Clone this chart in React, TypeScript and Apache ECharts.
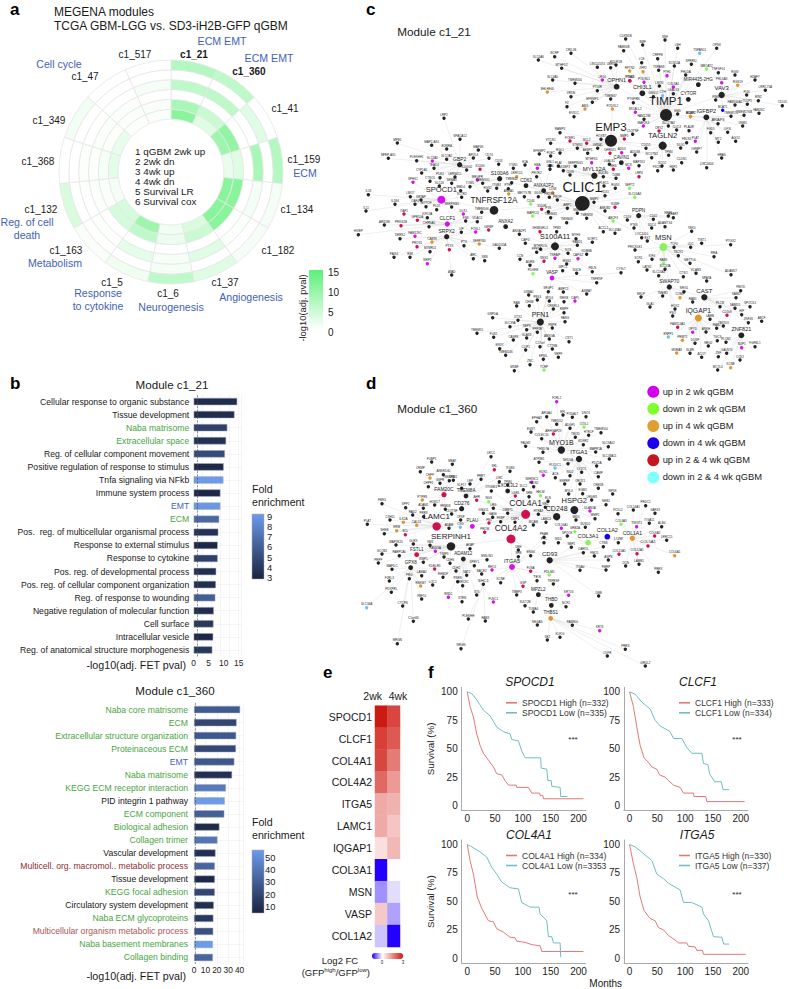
import React, { useEffect, useRef } from "react";
import * as echarts from "echarts";

const FONT = "Liberation Sans";

/* ---------- panel a ---------- */
const modules = ["c1_21","c1_360","c1_41","c1_159","c1_134","c1_182","c1_37","c1_6","c1_5","c1_163","c1_132","c1_368","c1_349","c1_47","c1_517"];
const ring1 = [7,6,0,7,1,1,3,6,1.5,0.6,3.5,0,1.2,0,0];
const ring2 = [0,0,3,0,0,0,0,1,0,0,0,0,0,0,0];
const ring3 = [6,6,0,8,1,0.5,3,0.7,2.5,0.3,0,0.5,0,0,1];
const ring4 = [0,0,0,0,0,0,0,0,0,0,0.5,0.3,0.5,0.4,0];
const ring5 = [8,5,10,3,11,11,5,1.8,6,4,0.5,0.8,0.5,0.5,0.6];
const ring6 = [11,3,9,2,11,11,3.5,1.5,9,4,1,2.5,2,0.3,0.4];
const rings = [ring6, ring5, ring4, ring3, ring2, ring1];

/* ---------- panel b ---------- */
const termsC21 = ["Cellular response to organic substance","Tissue development","Naba matrisome","Extracellular space","Reg. of cellular component movement","Positive regulation of response to stimulus","Tnfa signaling via NFkb","Immune system process","EMT","ECM","Pos.  reg. of multicellular organismal process","Response to external stimulus","Response to cytokine","Pos. reg. of developmental process","Pos. reg. of cellular component organization","Reg. of response to wounding","Negative regulation of molecular function","Cell surface","Intracellular vesicle","Reg. of anatomical structure morphogenesis"];
const kindC21 = ["k","k","g","g","k","k","k","k","b","g","k","k","k","k","k","k","k","k","k","k"];
const fetC21 = [14.5,13.6,11.2,10.8,10.4,10,9.9,8.9,8.9,8.5,8.2,8,8,7.5,7.4,7.2,6.7,6.6,6.5,6.2];
const foldC21 = [3.5,3.5,4.5,3.7,5,3.3,9,3.2,8.8,6.5,3.7,3.2,4.5,3.6,3.6,6,3.5,4,3.3,4];
const termsC360 = ["Naba core matrisome","ECM","Extracellular structure organization","Proteinaceous ECM","EMT","Naba matrisome","KEGG ECM receptor interaction","PID integrin 1 pathway","ECM component","Biological adhesion","Collagen trimer","Vascular development","Multicell. org. macromol.. metabolic process","Tissue development","KEGG focal adhesion","Circulatory system development","Naba ECM glycoproteins","Multicellular organism metabolic process","Naba basement membranes","Collagen binding"];
const kindC360 = ["g","g","g","g","b","g","g","k","g","g","g","k","r","k","g","k","g","p","g","g"];
const fetC360 = [40.5,37.4,37,36.8,35.4,33.4,28,27,26.6,22.3,20.6,18.9,18.3,18.3,18.3,17.4,17,16.9,16.6,16.6];
const foldC360 = [26,18,25,19,25,10,38,50,28,8,36,10,30,7,18,9,13,22,50,30];
const ticksB1 = [0,5,10,15];
const ticksB2 = [0,10,20,30,40];

/* ---------- panels c, d: nodes are [label, x, y, status], hubs add a weight ---------- */
type Hub = [string, number, number, number, number?];
type Leaf = [string, number, number, number?];
const c21Hubs: Hub[] = [
 ["CLIC1",727,610,14],["TIMP1",978,345,11.5],["EMP3",813,422,11.5],["TNFRSF12A",462,631,8.2],["SPOCD1",304,599,7.6,1],["TAGLN2",968,437,7.7],["S100A11",645,739,7.6],["MSN",970,741,7.5,2],["PFN1",601,966,6.8],["IQGAP1",1075,954,6.8,3],["MYL12A",763,527,6],["CAST",1093,892,6],["ZNF821",1204,1006,5.5],["SRPX2",320,710,5],["CLCF1",322,672,5,1],["VAV3",1145,285,6],["IGFBP2",1099,352,5.5],["CHI3L1",907,280,5.5],["OPHN1",830,260,5.5],["GBP2",359,494,5],["S100A6",479,536,5],["PDPN",896,647,4.8],["SWAP70",988,861,5],["VASP",636,834,4.5,1],["ANXA2",497,680,4.5],["CD63",558,557,4.5],["ANXA2P2",611,572,4.5],["CAVIN1",844,488,4.5],["CYTOR",1045,298,4.5],["MIR4435-2HG",1075,254,4.5],["ARAP3",1134,371,4],
];
const c21Trunks = [["CLIC1","TNFRSF12A"],["CLIC1","EMP3"],["CLIC1","MYL12A"],["CLIC1","S100A11"],["CLIC1","MSN"],["CLIC1","PDPN"],["EMP3","TIMP1"],["EMP3","TAGLN2"],["TIMP1","TAGLN2"],["TIMP1","CHI3L1"],["TIMP1","OPHN1"],["TIMP1","VAV3"],["TIMP1","IGFBP2"],["TIMP1","CYTOR"],["TIMP1","MIR4435-2HG"],["TIMP1","ARAP3"],["TNFRSF12A","SPOCD1"],["TNFRSF12A","CLCF1"],["TNFRSF12A","SRPX2"],["TNFRSF12A","GBP2"],["TNFRSF12A","S100A6"],["TNFRSF12A","ANXA2"],["S100A11","VASP"],["VASP","PFN1"],["MSN","SWAP70"],["SWAP70","CAST"],["CAST","IQGAP1"],["IQGAP1","ZNF821"],["CLIC1","CD63"],["CLIC1","ANXA2P2"],["MYL12A","CAVIN1"]];
const c21Leaves: Record<string, Leaf[]> = {
 TIMP1: [["CDKN1B",857,117],["BMF",908,135],["SNF",975,120],["FAM84B",851,152],["LBH",1013,145],["OPN3",1130,145],["TSPAN11",1079,160,6],["LCE",905,188],["CRPPB",953,176],["SCN11A",1003,198],["SPRR1L",1054,193],["MBOAT2",1100,207,2],["RFTN2",869,213,3],["ZFP2",909,215,3],["TSPAN8",956,211],["FTH1",981,227,1],["PHLDA",1037,225],["PODNL1",912,247,1],["COL8A1",1000,261,1],["LGALS3",1000,281],["CTH",968,287,6],["GNG11",940,290],["MICALL2",886,337,1],["EMD",1013,342],["RCN3",1051,349,3],["FAM129B",912,358],["CRYZ",957,393,5],["CLIC4",1010,390],["PLAUR",1047,392],["MAP2K3",910,378,1],["FTSJ3",870,242,5],["LMO3",958,258],["PTGFRN",880,308],["SLC27A3",985,378]],
 VAV3: [["PHLDA3",1145,248,1],["RGS19",1193,256,3],["TNFSF14",1135,218],["RGSI",1185,225],["H2AFY",1245,240],["LRRC75A",1276,271],["PI16",1220,285],["RIN2",1255,302],["TULP1",1222,313],["FAM26C",1257,340],["CD101",1327,317],["BCAT1",1148,331,4],["FAM160A2",1185,315],["PIM3",1127,300]],
 IGFBP2: [["TMEM176",1173,349],["TMEM176B",1212,346],["DNM1",1208,378],["FGD5",1112,398],["ILF3L",1163,397],["AGO2",1187,424],["MT2",1135,427],["HRAS",1145,474],["LINC0606",1100,503],["PLAT",1066,424,1],["IGFBP7",1070,456],["ADAP2",1052,350,3]],
 OPHN1: [["SLC6A6",595,180],["BCRP",644,170],["CRIL1B",693,160],["MTHFD2",665,205],["SLC6A5",638,240],["TMEM160",705,250],["VRDN",693,290],["BHLHE40",622,276,3],["F2",681,320],["LINC02474",772,202],["LRG1",787,240,1],["ITGA1",869,242,5],["PTGIR",772,272],["EFEMP1",757,307],["TMEM47",812,297],["ABI3",735,327,3],["EVS1C",702,350],["UBR3",812,203],["POLR1B",828,195]],
 EMP3: [["RAMP3",660,398],["FCER1",690,423,5],["BCL2",740,430,5],["HOXB7",783,418],["STMN3",712,445],["VTCN1",632,430],["EFEMP2",598,462],["RGL1",660,459],["AEBP1",743,460],["LMNA1",773,445],["BMP1",853,417,5],["PODXL2",817,327,3],["CD151",918,445],["ADD3",845,458,1],["DHRS11",810,460,5],["C1QTNF",878,403]],
 TAGLN2: [["FBLN1",1040,428],["DLG1",1022,444],["TPM4",986,466],["NCOTN2",935,473],["ADD3B",885,465],["MAP2K1",897,497],["CLDN1",1025,488],["SCO2",966,498],["FSCN1",953,512],["LRP4",897,530,5],["HSP2",1000,510]],
 MYL12A: [["SERPING1",706,499],["PLEC",632,468],["GNL1",630,497],["PLAI",655,498],["TAX1BP3",670,512],["MTHFD1",755,488,1],["LGALS1",808,493],["MCK",866,505,1],["RHS",820,508,5],["NUCB1",790,530],["TUBB",828,535],["CD99",690,525]],
 CLIC1: [["SUMF",825,622,5],["SEPT2",869,565,2],["SLC16A3",884,592,2],["PRDX6",628,592],["PROP",652,600],["MMP2",762,607],["FDX1",795,587],["RGS3",826,565],["PLEC1",792,558],["MSN2",712,640],["ARPC",682,625],["TMSB4X",680,668],["TMEM59",740,655],["ANKIB2",795,633],["TMEM43",632,653],["PYK",625,635],["CD44",572,612,2],["GLG1",595,590],["S100P",605,628,5],["MAPK13",578,648,2],["ABCF3",819,663,2],["ACCL1",790,695],["SLC43A1",825,700]],
 ANXA2P2: [["ANXA1",506,582,3],["METTL7B",553,590],["CD68",638,578,3],["TMEM42",515,548],["PROK2",590,530],["HBA",592,505,1],["E1A",555,495],["ITSN1",520,505],["CAN",630,508]],
 S100A6: [["CD53",476,493],["S100G",420,508,5],["MRGPR",412,540,1],["LRRC15",530,530,3],["PTRF",505,566],["TOM1",390,560],["ITGB3",470,565],["RGS2",443,573],["TMEM161",428,550]],
 GBP2: [["CD74",447,475],["APOL4",400,474],["SLC7A2",320,478],["TEAD4",282,505],["LRRN4CL",345,531],["SLC3A5",277,483,1],["S100G2",380,510],["SLC16",298,558],["SEMA3",335,550],["PLEKHH1",230,482],["MAP4K",415,450],["EDNRA",320,447],["MAP2-AS1",275,436],["SPACA12",360,418],["LRP2",312,355],["MPB1",172,429],["NPEP-AS1",145,475],["CYP1A1",245,519],["CTSO1",270,544],["PDE2",300,533]],
 SPOCD1: [["SPHK1",219,547,1],["IL18",85,584],["LMO7",211,590],["OAF4",225,613],["IL11",78,633],["IL1B4",165,613],["KRTAP",243,600],["NOTCH",258,620],["SERPINB2",335,621],["SCTR2",365,592],["MBD4",362,572],["PLD1",290,629],["DLK1",370,642,1]],
 CLCF1: [["OAF1",192,642,5],["GPR55A",232,661,5],["PRKS2B",183,677,5],["KIF13A",262,653],["ARID3B",133,675],["CHRNA5",267,680],["FN3",377,663],["FOSL1",407,696,1],["VDAC1",412,665],["HIVEP",55,704],["TMEM106",425,637]],
 SRPX2: [["FAM129C",225,709,1],["CAB39",276,726,3],["DRRK2",180,716],["PROS1",231,740,5],["MTMR11",270,755],["PTX3",328,749,5],["PTX",372,737],["LIF",364,697],["SERPIND",418,732,3],["IGFBP",446,690,5],["PAIS4",162,772],["RIM",210,772],["NRP2",262,791,1],["ARC",400,776],["GADD45A",478,745],["SBN",434,782],["ATAD",335,825]],
 S100A11: [["ANXA2P1",538,703],["SH3BGRL3",600,695,5],["TPM3",650,695],["CAPG",556,730],["PPP4A",590,757],["MYH9",708,716],["RAB31",712,736],["MTHFD1L",602,748],["TNFAIP",645,775,1],["SNX1",612,784,5],["SOS",684,760],["CAPG2",714,776,1],["MGS2",680,792],["ADRB",570,796],["CCN",540,778],["SORT1",757,727],["PDGFB",579,821,2],["FBLN",757,815],["SGCE",710,820],["KDM6B",740,763],["GIPC1",668,812]],
 PDPN: [["CD59",862,660],["CD42",940,658],["PTK6",882,684],["SDC4",935,684],["NRP1",985,648],["HEART",1000,653],["ADAMTS4",975,680],["EXT",922,723],["LOC1010",905,713]],
 MSN: [["PRICKLE1",885,750],["TCF4",1002,742],["TINT1",1085,730],["PTGS2",1172,734],["LDC",1052,742],["TBOX2",1015,767],["METTL6",1050,790],["RRA",1122,770],["KIF4",936,778],["RAB9",970,790,2],["SLC23A",975,808],["LATS2",921,810],["SLC13A3",956,827],["CTSO",1030,830],["VCAM1",1068,820],["SPATA",1100,843],["ADAM17",1173,824],["TBKD",1055,694],["SCN1",895,785]],
 SWAP70: [["COMP",1020,893,3],["NRG1",1032,875],["TMEM1",968,888],["MKLP",903,891],["GLA1",930,921],["HOX2",1005,927],["PSO",998,948],["RAB1",1058,906]],
 CAST: [["FMOD",1202,872],["SAMD",1188,893],["PLCB",1140,920],["SAMD2",1185,925],["SPOCK1",1230,920],["CD109",1161,946,5],["HIP",1205,944],["TMOD3",1150,978],["LAMB",1110,958],["ZNF46",1225,968],["ABCF",1265,964]],
 IQGAP1: [["FAM114A1",1013,982,5],["OPYD",1058,997,1],["ANKH",1098,996],["RAB2",1130,985],["PRMT1",1027,1021,3],["ENPP1",985,1011,6],["DUSP",1065,1030],["NRG2",1105,1038],["TGCS",1132,1022],["MXRA8",1010,1059,3],["SLBR",1050,1060],["ACOT",1085,1072]],
 ZNF821: [["PLCB2",1158,1027],["NUP5",1205,1043,1],["FGFBL1",1245,1040],["GALNT4",1160,1060],["CCK2",1200,1080],["ZNF",1135,1070],["KCNE",1172,1103,3],["MCTL4",1133,1110]],
 PFN1: [["SRGP1",625,875],["AMPC3",670,876],["USBA1",566,885],["PBX4",592,900],["MYL6",628,903],["NRKB",672,905],["CAP5",705,903,1],["RAB",530,918],["CHSB",568,917],["CRKRL1",640,927],["RMPF",672,938],["FANG",675,965],["DTX2",534,961],["SLC39A",510,980],["GNPDA",458,953],["SEPS",560,989],["PBPR",637,984],["PPP1R",592,997],["GLAS3",560,1014],["AMXGA",628,1017],["TMEM55",411,1000],["FUS1",461,1012],["CASP8",520,1020],["ENDY",479,1046],["TMEM246",497,1066],["CLIP1",557,1050],["C17orf",600,1040],["CTTNB",637,1047],["CST1",687,1025],["EPSIL",610,1078],["VRPF",655,1072],["ZNC",570,1094],["MSBF",523,1112],["TCRP",612,1110,2]],
 VASP: [["TNFRSF",770,848],["ASMAT",740,882],["CYSLT",843,818]],
};

const c360Hubs: Hub[] = [
 ["COL4A1",557,463,8.5,5],["COL4A2",513,537,8.5,5],["LAMC1",290,499,8,5],["SERPINH1",333,559,8],["HSPG2",703,450,7.5],["CD248",650,470,7],["MYO1B",664,270,7],["ITGA1",717,297,6],["CD93",629,601,6],["ITGA5",516,621,5.5,1],["COL3A1",744,548,5.5,2],["COL1A2",802,530,5.5,4],["COL1A1",877,535,5,3],["FAM20C",312,404,5,5],["TMEM8A",378,408,4.5],["CD276",365,446,5],["PLAU",397,499,4.5,1],["ADAM12",370,597,4.5],["FSTL1",230,584,4.5,5],["GPX8",212,623,4.5],["MPZL2",595,704,4.5],["THBD",634,736,4.5],["THBS1",632,775,4.5,3],["TES",591,662,4],["SHC1",430,673,4],["EXOC3L2",503,393,4.5],["ITGB1",454,393,4],["LUM",835,548,4],["COL5A1",924,558,4,5],
];
const c360Trunks = [["COL4A1","COL4A2"],["COL4A1","HSPG2"],["COL4A1","CD248"],["COL4A1","LAMC1"],["COL4A2","SERPINH1"],["COL4A2","ITGA5"],["COL4A2","CD93"],["LAMC1","SERPINH1"],["LAMC1","CD276"],["LAMC1","FAM20C"],["HSPG2","CD248"],["HSPG2","COL3A1"],["HSPG2","ITGA1"],["ITGA1","MYO1B"],["COL3A1","COL1A2"],["COL1A2","COL1A1"],["COL1A1","COL5A1"],["COL1A2","LUM"],["ITGA5","MPZL2"],["ITGA5","SHC1"],["MPZL2","THBD"],["THBD","THBS1"],["MPZL2","TES"],["SERPINH1","ADAM12"],["SERPINH1","FSTL1"],["SERPINH1","GPX8"],["COL4A1","EXOC3L2"],["COL4A1","ITGB1"],["CD276","TMEM8A"],["COL4A1","PLAU"]];
const c360Leaves: Record<string, Leaf[]> = {
 MYO1B: [["F2RL2",650,125,1],["ARGA4",620,170],["EFL",669,165],["PODALT",697,172],["DNO1",738,170],["EPHA3",590,185],["TMED52",650,193],["ADGF5",690,205],["COIL1",732,201,2],["EGST",573,216],["ARHGAP29",640,222,5],["TMOD",706,232],["HTR1F",746,226],["TMEM500",783,218],["COLEC10",605,236],["KDSR2",730,254],["PALM2",557,259],["THSD7A",609,277],["SLC9A12",805,260],["MAPR1A",767,276],["SLC38A11",808,297]],
 ITGA1: [["ATP8B1",597,307],["PLXDC1",645,324,6],["NKD1A",684,311],["PDZ2A",770,318],["LYZO1",725,337],["NID2",690,347],["CAMP",775,350],["EDN1",610,346,1],["ACE",646,353],["ENPEP",674,372],["ORO21",720,372],["CRB1B",775,385],["MYL4",686,402],["EGM1",728,401],["NPSK",818,402]],
 HSPG2: [["DLAN1A",750,453,1],["LRGM3",755,420],["NEB2",798,434],["MMP2",765,476],["MID1",708,480],["SUSD2",736,502],["GRB2A",705,515,2]],
 CD248: [["HTRA3",595,463],["LAMC3",618,487],["COL16A1",664,505,1],["ELN",624,424],["SRM",567,410],["HELM",601,407,2],["MCAM",580,495],["LGR4",526,408,5],["FBLN2",581,380],["NR2",616,442]],
 COL4A1: [["DMBT1",503,460],["CMP1",525,487],["FN1",447,489,5],["FKBP",482,485],["PROM",434,517,5],["GNG11",430,460],["NGS",446,425,2],["TPM4",503,375],["SLC2",550,389],["SERINC2",575,367,1],["LRG",460,445],["AHR",410,421,5],["GAS6",458,472]],
 LAMC1: [["CALD1",230,496,3],["ILK2A",190,487,3],["CSH11",150,480],["ADAM",327,505],["ERM",170,512,3],["SHEB",133,521],["BCL",196,524,5],["PLAT",82,493],["CPSF",362,480],["RAD2",218,465],["PRRX",251,470],["C1QTNF",335,462],["CSG",361,502,6],["FMN1",126,431],["SPP1",197,443]],
 FAM20C: [["FUBP1",275,306],["PTPRS",247,420,3],["CRMP",241,335],["ANKRD40",310,344],["CHPF",270,354,3],["NEBPB",328,362],["GSPR",300,370],["USB1",340,361],["CHPF2",265,380],["MEAT",337,313],["HOXC7",284,435],["FRMD8",316,448],["ADAM1",250,445]],
 TMEM8A: [["LRCC",453,290],["SRL",463,329,5],["LRP",390,372],["PRRT",423,358],["LINC",478,365],["ITGB3",510,334],["KLF17",365,385]],
 SERPINH1: [["GLRX",220,552],["MAP3K20",168,555],["SM3",270,556],["FAM49A",286,574,1],["GCOB1",126,582],["PARPCAL",178,587],["TIMP3",312,591],["PRPF",115,609],["WBP1",250,607],["AKAP",390,566],["CDH6",330,610]],
 GPX8: [["MAPILC",156,628],["LAMA2",245,647],["PRG",208,656],["PDXPRL",154,697],["F2RL3",148,663],["RBKM7",242,678,3],["FBF10",245,717],["CTCFN",188,738],["SLC34A",80,743,6],["C1orf46",220,784],["MRGN",172,851],["KDELR3",284,627,5],["LOC1",278,675]],
 ADAM12: [["EMILIN1",441,599],["SPRY1",403,617],["BACE2",425,642],["CDH2",348,633],["SAT2",380,646],["PSEN",353,665],["RHBDF",309,652],["RND1",325,712,1],["FLNC1",460,726,1],["STRN",366,725],["LRRC8C",368,677],["ST6",410,705]],
 ITGA5: [["RHOJ",456,630,1],["FLNA",572,634,5],["PDLIM1",628,645,2],["KCNE",482,668],["GSP",549,679,5],["TMBP3",530,705],["SHB",535,590],["ENG4",572,587],["DBH",535,570],["PEAR",612,532],["PTC",612,548]],
 SHC1: [["PLEKHH",385,777],["RAB3",436,783],["NRGN",363,866]],
 MPZL2: [["KRT16",686,706,1],["SULT2B",555,737],["TUBA4",580,756],["NCF2",678,740],["TNFRSF",640,672]],
 THBS1: [["NEGAS",592,795],["FAM800",697,796],["SE2",622,840],["KLF10",660,832],["KRT6",779,812,1],["PRRS",856,868],["OLFR",802,888],["GRUL2",916,918]],
 CD93: [["NBP1",694,562],["OAROL",730,578],["FMO1",763,588],["ITGA4",720,631],["DBB",776,708],["ASPN",805,600],["FMRP",798,630],["CTNB",790,560]],
 COL1A1: [["COL4A3",843,493,2],["FCDL2",834,461],["COL14A1",880,450],["TWIST1",890,500,1],["ITGA11",928,490],["GAP43",945,460],["ALB4",965,500],["PRDC1",917,437],["COL6A2",944,528,5],["COL15A1",837,583,5],["COL12A1",891,581,5],["DCN",857,618],["LAMB1",897,613],["COL6A1",1004,587,3],["LRRC15",980,541],["PRRX",955,637]],
 COL3A1: [["NID1",655,548],["SPOCK",682,528]],
};

/* ---------- panel e ---------- */
const heatGenes = ["SPOCD1","CLCF1","COL4A1","COL4A2","ITGA5","LAMC1","IQGAP1","COL3A1","MSN","VASP","COL1A2"];
const heatWeeks = ["2wk","4wk"];
const fc2wk = [3,2.5,2.4,1.95,1.1,1.1,0.4,-1.5,-0.65,0.7,-0.35];
const fc4wk = [2.4,2.15,1.7,1.3,1,0.75,0.9,0.03,-0.2,-0.55,-1.5];

/* ---------- panel f ---------- */
type P = [number, number];
const spocd1High: P[] = [[0,100],[5,87],[11,78],[17,63],[23,53],[29,46],[38,40],[47,34],[53,28],[62,27],[68,22],[74,18],[88,18],[89,16],[110,16],[116,11],[130,11],[131,9],[136,9],[137,6],[209,6]];
const spocd1Low: P[] = [[0,100],[8,98.5],[17,93],[29,84],[41,79],[53,69],[65,65],[77,63],[80,58],[92,57],[98,48],[104,42],[132,42],[133,33],[143,32],[145,22],[151,22],[152,17],[167,16],[168,8],[180,8]];
const clcf1High: P[] = [[0,100],[7,87],[13,69],[19,53],[26,42],[34,38],[40,34],[49,32],[54,27],[64,25],[70,22],[79,18],[91,16],[97,11],[115,11],[116,8],[137,8],[139,3.5],[207,3.5]];
const clcf1Low: P[] = [[0,100],[10,98],[22,91],[37,85],[46,75],[55,70],[73,65],[79,59],[94,59],[103,51],[112,46],[130,46],[133,37],[141,36],[144,28],[153,21],[165,21],[168,14],[179,14]];
const col4a1High: P[] = [[0,100],[5,86],[11,74],[18,54],[26,44],[38,33],[47,32],[53,26],[65,23],[77,18.5],[86,18],[89,15],[104,14],[116,12],[131,11],[134,6],[209,6]];
const col4a1Low: P[] = [[0,100],[8,98],[23,93.5],[35,89],[44,80],[53,74],[62,67],[77,62],[92,61],[98,49],[113,45],[129,45],[131,39],[143,33],[146,19],[152,19],[155,13.5],[167,13.5],[168,1]];
const itga5High: P[] = [[0,100],[7,83],[13,71],[19,54],[26,42],[37,35],[46,33],[52,27],[61,25],[70,20],[82,16],[88,13.5],[103,13.5],[106,10.5],[118,10],[121,7],[131,7],[133,3.5],[209,3.5]];
const itga5Low: P[] = [[0,100],[10,98],[25,92],[40,86],[49,74],[61,70],[70,66],[91,60],[97,49],[112,49],[130,45],[133,39],[142,33],[151,19],[166,18.5],[169,12.5],[179,12.5]];
const kmPanels = [
 { gene: "SPOCD1", high: spocd1High, low: spocd1Low, highName: "SPOCD1 High (n=332)", lowName: "SPOCD1 Low (n=335)" },
 { gene: "CLCF1", high: clcf1High, low: clcf1Low, highName: "CLCF1 High (n=333)", lowName: "CLCF1 Low (n=334)" },
 { gene: "COL4A1", high: col4a1High, low: col4a1Low, highName: "COL4A1 High (n=334)", lowName: "COL4A1 Low (n=3353" },
 { gene: "ITGA5", high: itga5High, low: itga5Low, highName: "ITGA5 High (n=330)", lowName: "ITGA5 Low (n=337)" },
];
const kmXTicks = [0,50,100,150,200];
const kmYTicks = [0,25,50,75,100];

const statusColor = ["#222222","#d80ff0","#85f55a","#e0962a","#1500f0","#d0104f","#6cc0f8"];
const termColor: Record<string,string> = { k:"#1a1a1a", g:"#4aa53f", b:"#3f62b8", r:"#8a3030", p:"#b05555" };
const BLUE = "#3f62b8";

function mix(a: number[], b: number[], t: number) {
  const c = a.map((v, i) => Math.round(v + (b[i] - v) * Math.max(0, Math.min(1, t))));
  return `rgb(${c[0]},${c[1]},${c[2]})`;
}
const scoreColor = (v: number) => mix([255,255,255],[93,240,119], v / 15);
const foldColor = (v: number, lo: number, hi: number) => mix([26,35,64],[108,155,234], (v - lo) / (hi - lo));

function buildNetwork(hubs: Hub[], leaves: Record<string, Leaf[]>, trunks: string[][]) {
  const nodes: any[] = [];
  const links: any[] = [];
  const index: Record<string, number> = {};
  const addNode = (name: string, x: number, y: number, w: number, status: number) => {
    nodes.push({
      id: "n" + nodes.length, name, value: [x, y], symbol: "circle",
      symbolSize: w > 4 ? w * 1.05 : 3.4,
      itemStyle: { color: statusColor[status] },
      label: { show: true, position: "top", distance: w > 7 ? 2 : 0.5, fontSize: w, color: "#1a1a1a", fontFamily: FONT },
    });
    return nodes.length - 1;
  };
  hubs.forEach(([n, x, y, w, s]) => { index[n] = addNode(n, x, y, w, s || 0); });
  Object.keys(leaves).forEach((hub) => {
    leaves[hub].forEach(([n, x, y, s]) => {
      const i = addNode(n, x, y, 3, s || 0);
      links.push({ source: index[hub], target: i });
    });
  });
  trunks.forEach(([a, b]) => links.push({ source: index[a], target: index[b] }));
  return { nodes, links };
}

const txt = (text: string, x: number, y: number, fontSize: number, o: any = {}) => ({
  type: "text", x, y, rotation: o.rotation || 0, silent: true,
  style: {
    text, fontSize, fontFamily: FONT, fontWeight: o.weight || "normal", fontStyle: o.italic ? "italic" : "normal",
    fill: o.fill || "#1a1a1a", align: o.align || "left", textAlign: o.align || "left", verticalAlign: "middle", textVerticalAlign: "middle",
    rich: o.rich,
  },
});

function buildOption() {
  const grid: any[] = [];
  const xAxis: any[] = [];
  const yAxis: any[] = [];
  const series: any[] = [];
  const legend: any[] = [];
  const g: any[] = [];

  /* panel a */
  rings.forEach((r, k) => {
    series.push({
      type: "bar", coordinateSystem: "polar", stack: "rings", barCategoryGap: "0%", silent: true,
      name: "ring" + (6 - k),
      data: r.map((v) => ({ value: 1, itemStyle: { color: scoreColor(v), borderColor: "#e6e6e6", borderWidth: 0.8 } })),
    });
  });
  const polar = { center: [171, 172], radius: [53, 112] };
  const angleAxis = { type: "category", data: modules, startAngle: 90, clockwise: true, axisLine: { show: false }, axisTick: { show: false }, axisLabel: { show: false }, splitLine: { show: false } };
  const radiusAxis = { type: "value", min: 0, max: 6, axisLine: { show: false }, axisTick: { show: false }, axisLabel: { show: false }, splitLine: { show: false } };

  const letter = { weight: "bold", fill: "#000" };
  g.push(txt("a", 10, 9, 17, letter), txt("b", 10, 383, 17, letter), txt("c", 366, 9, 17, letter), txt("d", 366, 383, 17, letter), txt("e", 323, 672, 17, letter), txt("f", 428, 672, 17, letter));
  g.push(txt("MEGENA modules", 54, 12, 12), txt("TCGA GBM-LGG vs. SD3-iH2B-GFP qGBM", 54, 26, 12));
  const modLabels: [string, number, number, number?][] = [["c1_21",194,54,1],["c1_517",135,54],["c1_360",249,71,1],["c1_47",85,76],["c1_41",285,108],["c1_349",49,120],["c1_159",304,159],["c1_368",38,161],["c1_134",297,209],["c1_132",41,209],["c1_182",278,250],["c1_163",66,250],["c1_37",225,282],["c1_5",112,282],["c1_6",168,293]];
  modLabels.forEach(([s, x, y, b]) => g.push(txt(s, x, y, 10, { align: "center", weight: b ? "bold" : "normal" })));
  const annots: [string, number, number][] = [["ECM EMT",222,41],["ECM EMT",269,58],["Cell cycle",59,64],["ECM",305,173],["Reg. of cell",27,222],["death",27,235],["Metabolism",55,263],["Angiogenesis",251,297],["Response",98,293],["to cytokine",98,306],["Neurogenesis",171,307]];
  annots.forEach(([s, x, y]) => g.push(txt(s, x, y, 10.6, { align: "center", fill: BLUE })));
  ["1","2","3","4","5","6"].forEach((s, i) => g.push(txt(s, 166, 65 + i * 9.9, 10, { align: "center" })));
  ["1 qGBM 2wk up","2 2wk dn","3 4wk up","4 4wk dn","5 Survival LR","6 Survival cox"].forEach((s, i) => g.push(txt(s, 135, 151 + i * 10, 9.9)));
  g.push({ type: "rect", shape: { x: 309, y: 270, width: 14, height: 60 }, silent: true, style: { fill: new echarts.graphic.LinearGradient(0, 0, 0, 1, [{ offset: 0, color: "#5df077" }, { offset: 1, color: "#ffffff" }]) } });
  ["15","10","5","0"].forEach((s, i) => g.push(txt(s, 328, 272 + i * 20, 10)));
  g.push(txt("-log10(adj. pval)", 302, 308, 9.4, { align: "center", rotation: Math.PI / 2 }));

  /* panel b */
  const barChart = (terms: string[], kinds: string[], fet: number[], fold: number[], lo: number, hi: number, left: number, top: number, width: number, height: number, xMax: number, ticks: number[], margin: number, bw: number) => {
    const gi = grid.length;
    grid.push({ left, top, width, height });
    xAxis.push({ type: "value", gridIndex: gi, min: 0, max: xMax, axisLine: { show: false }, axisTick: { show: false },
      axisLabel: { customValues: ticks, fontSize: 8.4, color: "#222", margin: 2, fontFamily: FONT }, splitLine: { show: true, lineStyle: { color: "#efefef", width: 0.6 } } });
    yAxis.push({ type: "category", gridIndex: gi, data: terms, inverse: true, axisLine: { show: false }, axisTick: { show: false },
      axisLabel: { interval: 0, fontSize: 8.65, margin, fontFamily: FONT, color: (_: any, i: number) => termColor[kinds[i]] } });
    series.push({ type: "line", xAxisIndex: gi, yAxisIndex: gi, data: [], silent: true,
      markLine: { silent: true, z: 0, symbol: "none", label: { show: false }, lineStyle: { color: "#efefef", width: 0.6, type: "solid" }, data: terms.map((c) => ({ yAxis: c })) } });
    series.push({ type: "bar", xAxisIndex: gi, yAxisIndex: gi, barWidth: bw, silent: true,
      data: fet.map((v, i) => ({ value: v, itemStyle: { color: foldColor(fold[i], lo, hi), borderColor: "#a4adc0", borderWidth: 0.5 } })),
      markLine: { silent: true, symbol: "none", label: { show: false }, lineStyle: { color: "#555", width: 0.6, type: "dashed" }, data: [{ xAxis: 1.3 }] } });
  };
  barChart(termsC21, kindC21, fetC21, foldC21, 3, 9, 193.7, 395, 48, 261.5, 16, ticksB1, 4.5, 7.3);
  barChart(termsC360, kindC360, fetC360, foldC360, 5, 50, 194, 703, 49, 261, 43, ticksB2, 6, 7.3);
  g.push(txt("Module c1_21", 172, 384, 11.6, { align: "center" }), txt("Module c1_360", 175, 690, 11.6, { align: "center" }));
  g.push(txt("-log10(adj. FET pval)", 186, 665, 10.7, { align: "right" }), txt("-log10(adj. FET pval)", 186, 976, 10.7, { align: "right" }));
  g.push(txt("Fold", 252, 489, 10.6), txt("enrichment", 252, 502, 10.6), txt("Fold", 252, 822, 10.6), txt("enrichment", 252, 835, 10.6));
  const fillBar = new echarts.graphic.LinearGradient(0, 0, 0, 1, [{ offset: 0, color: "#6c9bea" }, { offset: 1, color: "#1a2340" }]);
  g.push({ type: "rect", shape: { x: 252, y: 514, width: 12, height: 65 }, silent: true, style: { fill: fillBar, stroke: "#a4adc0", lineWidth: 0.5 } });
  g.push({ type: "rect", shape: { x: 252, y: 850, width: 12, height: 63 }, silent: true, style: { fill: fillBar, stroke: "#a4adc0", lineWidth: 0.5 } });
  ["9","8","7","6","5","4","3"].forEach((s, i) => g.push(txt(s, 267, 516 + i * 10.3, 9.4)));
  ["50","40","30","20","10"].forEach((s, i) => g.push(txt(s, 265, 857 + i * 12.4, 9.4)));

  /* panels c, d */
  const addNet = (net: any, top: number, h: number, yMax: number) => {
    const gi = grid.length;
    grid.push({ left: 340, top, width: 449, height: h });
    xAxis.push({ type: "value", gridIndex: gi, show: false, min: 0, max: 1347 });
    yAxis.push({ type: "value", gridIndex: gi, show: false, min: 0, max: yMax, inverse: true });
    series.push({ type: "graph", coordinateSystem: "cartesian2d", xAxisIndex: gi, yAxisIndex: gi, silent: true, roam: false,
      data: net.nodes, links: net.links, edgeSymbol: ["none","none"], lineStyle: { color: "#d6d6d6", width: 0.4, opacity: 1, curveness: 0 }, z: 3 });
  };
  addNet(buildNetwork(c21Hubs, c21Leaves, c21Trunks), 0, 370, 1110);
  addNet(buildNetwork(c360Hubs, c360Leaves, c360Trunks), 360, 310, 930);
  g.push(txt("Module c1_21", 397.3, 31, 11.7), txt("Module c1_360", 397.3, 408.7, 11.7));
  const legendRows: [string, string][] = [["up in 2 wk qGBM","#d400f0"],["down in 2 wk qGBM","#80ff30"],["up in 4 wk qGBM","#e0a030"],["down in 4 wk qGBM","#1a00ee"],["up in 2 & 4 wk qGBM","#c8141e"],["down in 2 & 4 wk qGBM","#80ffff"]];
  legendRows.forEach(([s, c], i) => {
    const y = 391.7 + i * 17.15;
    g.push({ type: "circle", shape: { cx: 653.3, cy: y, r: 6 }, silent: true, style: { fill: c } });
    g.push(txt(s, 662.7, y, 9.3));
  });

  /* panel e */
  const hi = grid.length;
  grid.push({ left: 375, top: 705.7, width: 25, height: 241.3 });
  xAxis.push({ type: "category", gridIndex: hi, data: heatWeeks, show: false });
  yAxis.push({ type: "category", gridIndex: hi, data: heatGenes, inverse: true, axisLine: { show: false }, axisTick: { show: false }, axisLabel: { interval: 0, fontSize: 10.5, margin: 3, color: "#1a1a1a", fontFamily: FONT } });
  const heatSeriesIndex = series.length;
  series.push({ type: "heatmap", xAxisIndex: hi, yAxisIndex: hi, silent: true, data: heatGenes.flatMap((_, r) => [[0, r, fc2wk[r]], [1, r, fc4wk[r]]]) });
  const visualMap = [{ type: "continuous", seriesIndex: heatSeriesIndex, min: -1.5, max: 3, orient: "horizontal", left: 372, top: 953, itemWidth: 6, itemHeight: 31, padding: 0, calculable: false, text: null, inRange: { color: ["#2400ff","#ffffff","#e88b86","#cd1a10"] } }];
  g.push(txt("2wk", 372.7, 696, 10.5, { align: "center" }), txt("4wk", 398, 696, 10.5, { align: "center" }));
  g.push(txt("0", 382, 962, 4.5, { align: "center" }), txt("3", 403, 962, 4.5, { align: "center" }));
  g.push(txt("Log2 FC", 340, 960, 9.5, { align: "center" }));
  g.push(txt("(GFP{s|high}/GFP{s|low})", 370, 972, 9.5, { align: "right", rich: { s: { fontSize: 6, verticalAlign: "top", fontFamily: FONT, fill: "#1a1a1a", padding: [0, 0, 4, 0] } } }));

  /* panel f */
  const kmLayout = [[461.7,687.3,506,681.7,530,739],[624,687.3,679,681.7,698,739],[461.7,840,506,835,529,894.7],[624,840,679,835,697,894.7]];
  kmPanels.forEach((p, i) => {
    const [left, top, legLeft, titleY, titleX, starY] = kmLayout[i];
    const gi = grid.length;
    grid.push({ left, top, width: 124, height: 123.3 });
    const axisStyle = { show: true, onZero: false, lineStyle: { color: "#aaaaaa", width: 1 } };
    xAxis.push({ type: "value", gridIndex: gi, min: -10, max: 213, axisLine: axisStyle, axisTick: { show: false, customValues: kmXTicks }, splitLine: { show: false }, axisLabel: { customValues: kmXTicks, fontSize: 10, margin: 3, color: "#222", fontFamily: FONT } });
    yAxis.push({ type: "value", gridIndex: gi, min: -4.4, max: 104, axisLine: axisStyle, axisTick: { show: false, customValues: kmYTicks }, splitLine: { show: false }, axisLabel: { customValues: kmYTicks, fontSize: 10, margin: 4, color: "#222", fontFamily: FONT },
      ...(i % 2 === 0 ? { name: "Survival (%)", nameLocation: "middle", nameGap: 26, nameTextStyle: { fontSize: 9.8, color: "#222", fontFamily: FONT } } : {}) });
    [[p.highName, p.high, "#e07a78"], [p.lowName, p.low, "#6dbfc4"]].forEach(([name, data, color]: any) => {
      series.push({ type: "line", name, xAxisIndex: gi, yAxisIndex: gi, data, showSymbol: false, silent: true, itemStyle: { color }, lineStyle: { color, width: 1 } });
    });
    legend.push({ left: legLeft, top: top + 11, orient: "vertical", padding: 0, itemGap: 1, itemWidth: 11, itemHeight: 1.6, icon: "rect", selectedMode: false, data: [p.highName, p.lowName], textStyle: { fontSize: 8.5, color: "#333", fontFamily: FONT } });
    g.push(txt(p.gene, titleX, titleY, 12, { align: "center", italic: true }));
    g.push(txt("***", i % 2 === 0 ? 573 : 737, starY, 8, { align: "center" }));
  });
  g.push(txt("Months", 605.7, 983, 10, { align: "center" }));

  return {
    animation: false, backgroundColor: "#ffffff", textStyle: { fontFamily: FONT },
    polar, angleAxis, radiusAxis, grid, xAxis, yAxis, series, legend, visualMap,
    graphic: { elements: g },
  };
}

export default function App() {
  const ref = useRef<HTMLDivElement>(null);
  useEffect(() => {
    document.body.style.margin = "0";
    const chart = echarts.init(ref.current!, undefined, { renderer: "svg" });
    chart.setOption(buildOption() as any);
    return () => chart.dispose();
  }, []);
  return <div ref={ref} style={{ width: 789, height: 989 }} />;
}
